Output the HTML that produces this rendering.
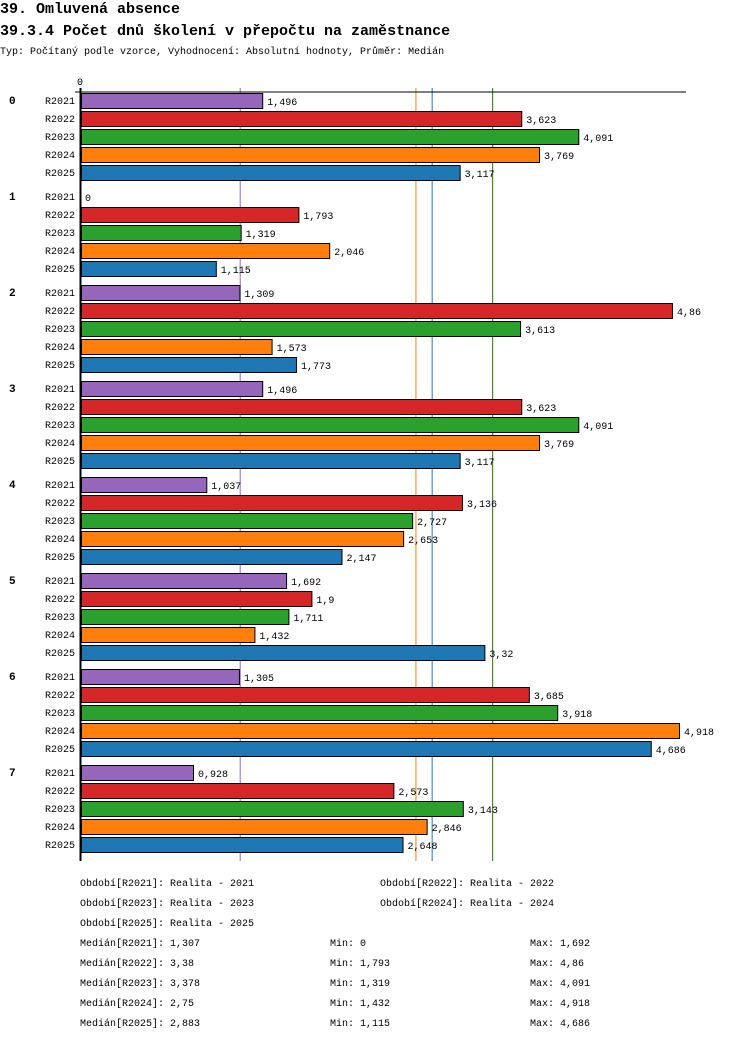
<!DOCTYPE html>
<html><head><meta charset="utf-8"><style>
body{margin:0;background:#fff;width:750px;height:1040px;overflow:hidden;font-family:"Liberation Mono",monospace;}
svg text{font-family:"Liberation Mono",monospace;}
</style></head><body>
<svg id="c" width="750" height="1040" xmlns="http://www.w3.org/2000/svg">
<text x="0" y="13" font-size="15" font-weight="bold" fill="#000">39. Omluvená absence</text>
<text x="0" y="35" font-size="15" font-weight="bold" fill="#000">39.3.4 Počet dnů školení v přepočtu na zaměstnance</text>
<text x="0" y="54" font-size="10" fill="#000">Typ: Počítaný podle vzorce, Vyhodnocení: Absolutní hodnoty, Průměr: Medián</text>
<g id="grid"></g><g id="bars"></g><g id="axis"></g><g id="legend"></g>
</svg>
<script>
const groups=["0","1","2","3","4","5","6","7"];
const series=["R2021","R2022","R2023","R2024","R2025"];
const colors=["#9467bd","#d62728","#2ca02c","#ff7f0e","#1f77b4"];
const vR2021=[1.496,0,1.309,1.496,1.037,1.692,1.305,0.928];
const vR2022=[3.623,1.793,4.86,3.623,3.136,1.9,3.685,2.573];
const vR2023=[4.091,1.319,3.613,4.091,2.727,1.711,3.918,3.143];
const vR2024=[3.769,2.046,1.573,3.769,2.653,1.432,4.918,2.846];
const vR2025=[3.117,1.115,1.773,3.117,2.147,3.32,4.686,2.648];
const medians=[1.307,3.38,3.378,2.75,2.883];
const mins=[0,1.793,1.319,1.432,1.115];
const maxs=[1.692,4.86,4.091,4.918,4.686];
const vals=[vR2021,vR2022,vR2023,vR2024,vR2025];
const NS="http://www.w3.org/2000/svg";
const x0=81,scale=121.8;
const xs=v=>x0+v*scale;
const rowY=(g,s)=>93+g*96+s*18;
function mk(tag,attrs,parent){const e=document.createElementNS(NS,tag);for(const k in attrs)e.setAttribute(k,attrs[k]);parent.appendChild(e);return e;}
const fmt=v=>String(v).replace('.',',');
const gridG=document.getElementById('grid'),barsG=document.getElementById('bars'),axisG=document.getElementById('axis'),legG=document.getElementById('legend');
[1,0,3,4,2].forEach(i=>{
  const l=mk('line',{x1:xs(medians[i]),x2:xs(medians[i]),y1:88,y2:861,stroke:colors[i],'stroke-width':1},gridG);
  
  
});
groups.forEach((g,gi)=>{
  const gt=mk('text',{x:9,y:rowY(gi,0)+11,'font-size':11,'font-weight':'bold'},axisG);gt.textContent=g;
  
  
  series.forEach((s,si)=>{
    const y=rowY(gi,si),v=vals[si][gi];
    const lt=mk('text',{x:45,y:y+11,'font-size':10},axisG);lt.textContent=s;
    
    
    const w=xs(v)-x0;
    if(w>0){
      const r=mk('rect',{x:x0+0.5,y:y+0.5,width:w-1,height:15,fill:colors[si],stroke:'#000','stroke-width':1},barsG);
      
      
    }
    const vt=mk('text',{x:xs(v)+4,y:y+12,'font-size':10},barsG);vt.textContent=fmt(v);
    
    
  });
});
const yAxisLine=mk('line',{x1:80.5,x2:80.5,y1:88,y2:861,stroke:'#000','stroke-width':2},axisG);


const xAxisLine=mk('line',{x1:75,x2:686,y1:92,y2:92,stroke:'#000','stroke-width':1},axisG);


const t0=mk('text',{x:77,y:85,'font-size':10},axisG);t0.textContent='0';


const legItems=[[80,886,'Období[R2021]: Realita - 2021'],[380,886,'Období[R2022]: Realita - 2022'],[80,906,'Období[R2023]: Realita - 2023'],[380,906,'Období[R2024]: Realita - 2024'],[80,926,'Období[R2025]: Realita - 2025']];
legItems.forEach(it=>{const t=mk('text',{x:it[0],y:it[1],'font-size':10},legG);t.textContent=it[2];
  
  });
series.forEach((s,i)=>{
  const y=946+i*20;
  const a=mk('text',{x:80,y:y,'font-size':10},legG);a.textContent='Medián['+s+']: '+fmt(medians[i]);
  
  
  const b=mk('text',{x:330,y:y,'font-size':10},legG);b.textContent='Min: '+fmt(mins[i]);
  
  
  const c=mk('text',{x:530,y:y,'font-size':10},legG);c.textContent='Max: '+fmt(maxs[i]);
  
  
});
</script>
</body></html>
